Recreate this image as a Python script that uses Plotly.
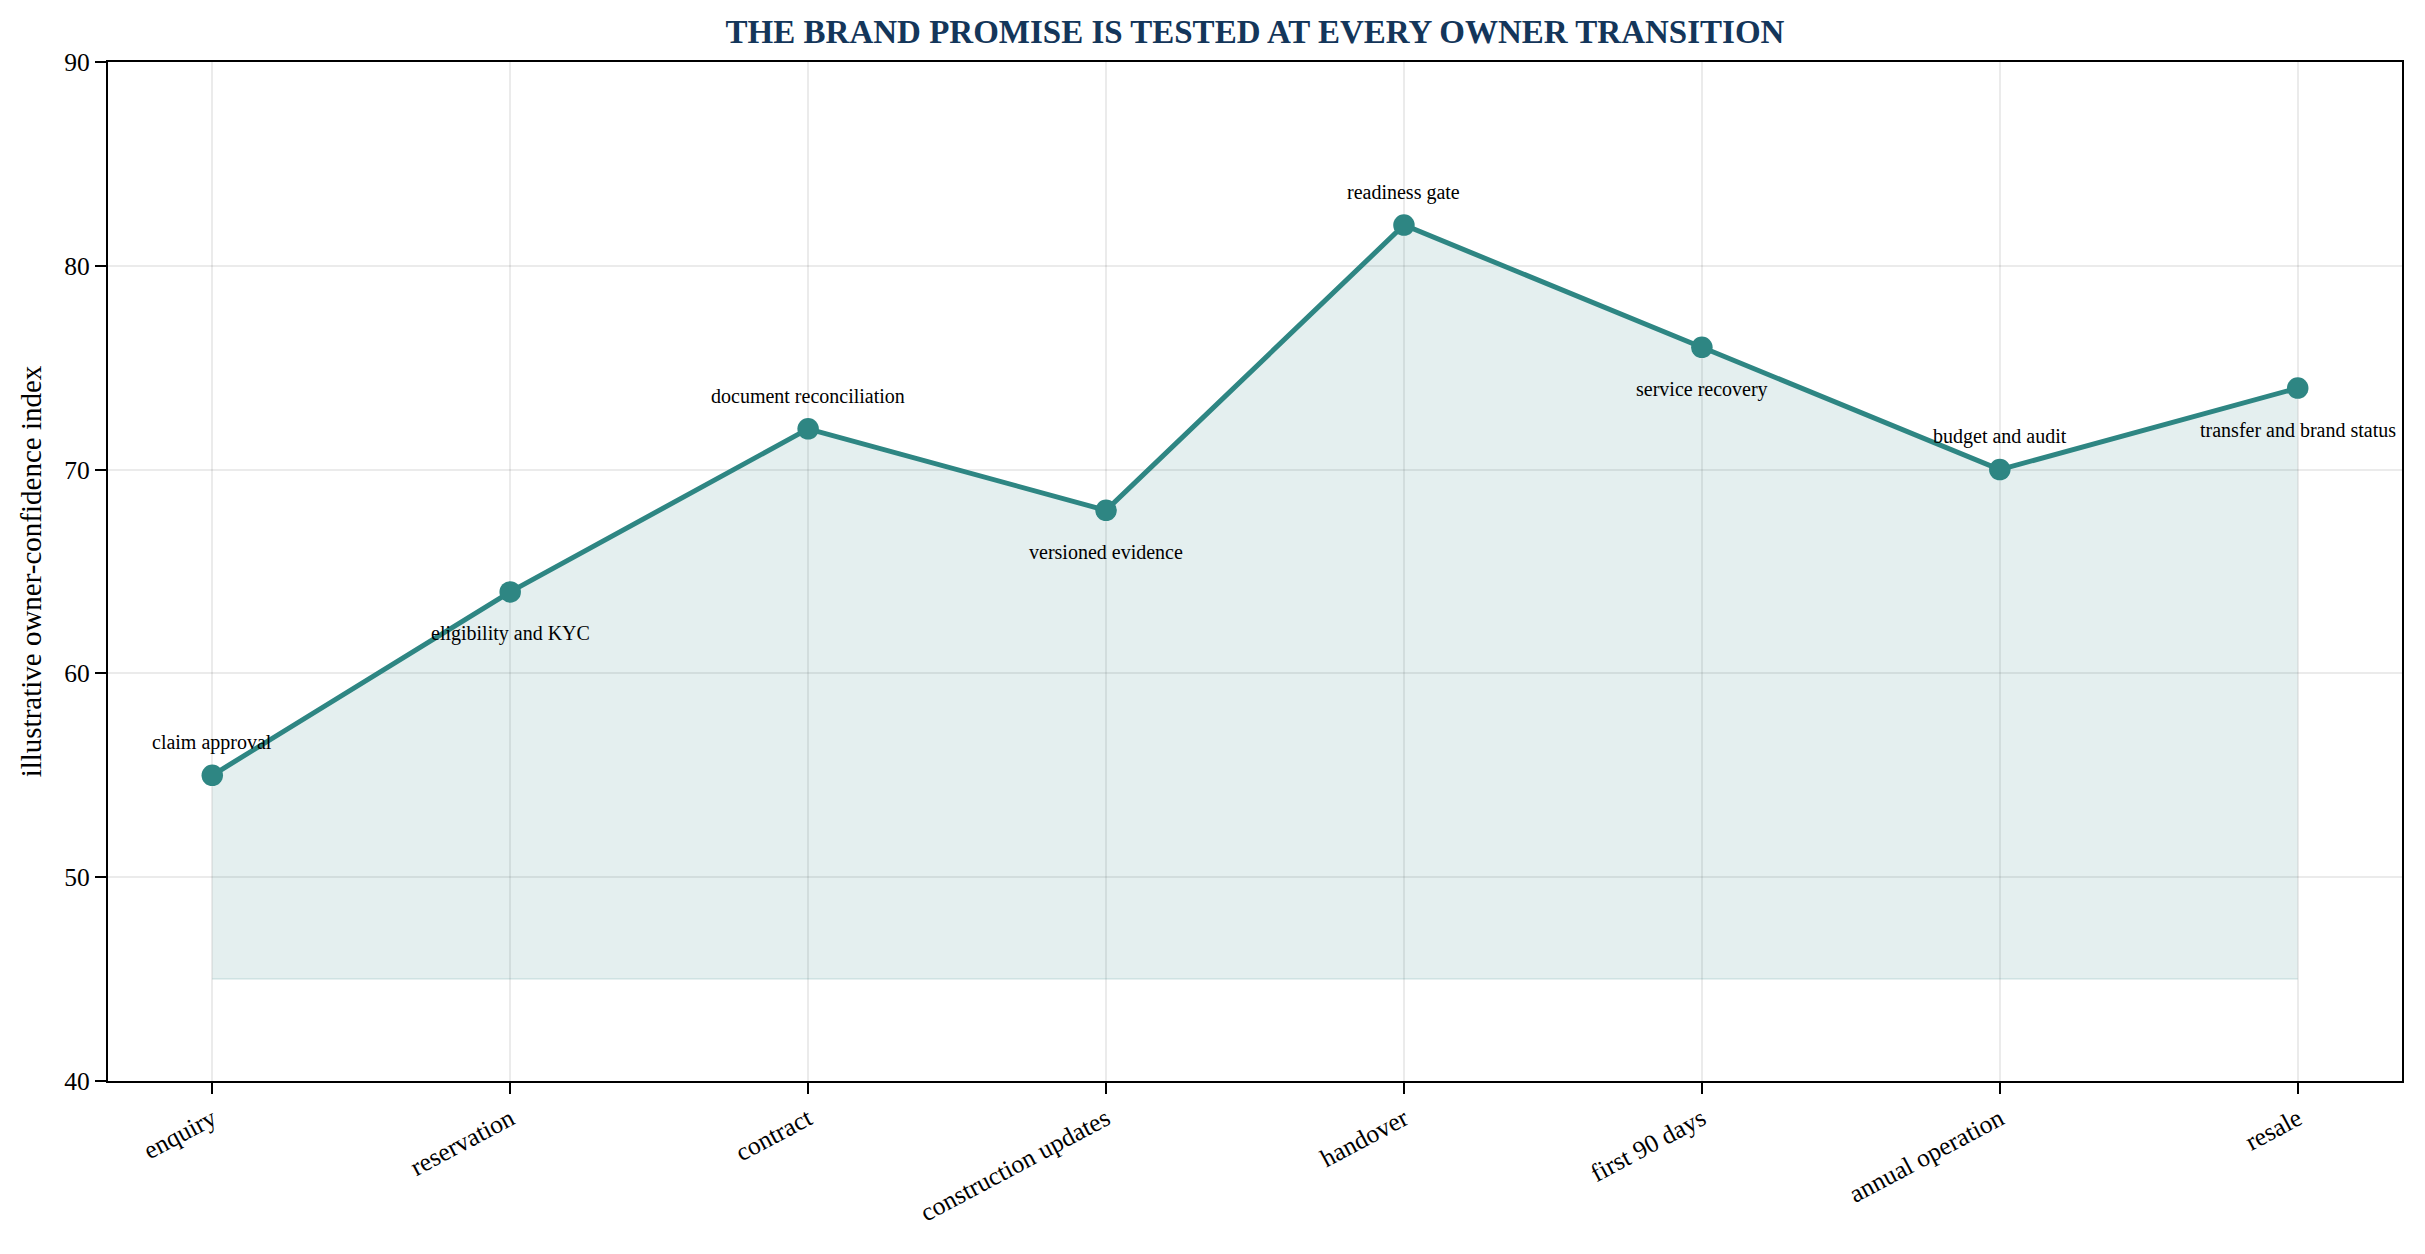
import plotly.graph_objects as go

stages = ["enquiry", "reservation", "contract", "construction updates",
          "handover", "first 90 days", "annual operation", "resale"]
confidence = [55, 64, 72, 68, 82, 76, 70, 74]
notes = ["claim approval", "eligibility and KYC", "document reconciliation",
         "versioned evidence", "readiness gate", "service recovery",
         "budget and audit", "transfer and brand status"]
note_above = [True, False, True, False, True, False, True, False]
baseline_value = 45
y_ticks = [40, 50, 60, 70, 80, 90]

LINE = "#2e8683"
FONT = "Liberation Serif, Times New Roman, serif"
W, H = 2417, 1246

xs = list(range(len(stages)))

fig = go.Figure()
fig.add_trace(go.Scatter(
    x=xs, y=[baseline_value] * len(xs), mode="lines",
    line=dict(color="rgba(46,134,131,0.12)", width=2), hoverinfo="skip",
    showlegend=False))
fig.add_trace(go.Scatter(
    x=xs, y=confidence, mode="lines", fill="tonexty",
    fillcolor="rgba(46,134,131,0.13)", line=dict(width=0),
    hoverinfo="skip", showlegend=False))
fig.add_trace(go.Scatter(
    x=xs, y=confidence, mode="lines+markers",
    line=dict(color=LINE, width=5),
    marker=dict(color=LINE, size=21.5), showlegend=False))

for x, y, t, up in zip(xs, confidence, notes, note_above):
    fig.add_annotation(x=x, y=y, text=t, showarrow=False,
                       yshift=33 if up else -42,
                       font=dict(family=FONT, size=20, color="black"))

fig.update_layout(
    width=W, height=H,
    margin=dict(l=100, r=23, t=54, b=173),
    paper_bgcolor="white", plot_bgcolor="white",
    font=dict(family=FONT, color="black"),
    title=dict(text="<b>THE BRAND PROMISE IS TESTED AT EVERY OWNER TRANSITION</b>",
               x=0.5, xref="paper", y=1 - 23 / H, yanchor="middle",
               font=dict(family=FONT, size=33, color="#14365a")),
)
fig.update_xaxes(
    range=[-0.35, len(stages) - 1 + 0.35],
    tickmode="array", tickvals=xs, ticktext=stages, tickangle=-28,
    tickfont=dict(family=FONT, size=25.5),
    showgrid=True, gridcolor="rgba(0,0,0,0.08)", gridwidth=1.5,
    showline=True, linecolor="black", linewidth=2.2, mirror=True,
    ticks="outside", ticklen=11, tickwidth=2, tickcolor="black",
    zeroline=False,
)
fig.update_yaxes(
    range=[40, 90], tickmode="array", tickvals=y_ticks,
    tickfont=dict(family=FONT, size=25.5),
    title=dict(text="illustrative owner-confidence index",
               font=dict(family=FONT, size=29), standoff=14),
    showgrid=True, gridcolor="rgba(0,0,0,0.08)", gridwidth=1.5,
    showline=True, linecolor="black", linewidth=2.2, mirror=True,
    ticks="outside", ticklen=11, tickwidth=2, tickcolor="black",
    zeroline=False,
)

fig.write_html("out.html")
